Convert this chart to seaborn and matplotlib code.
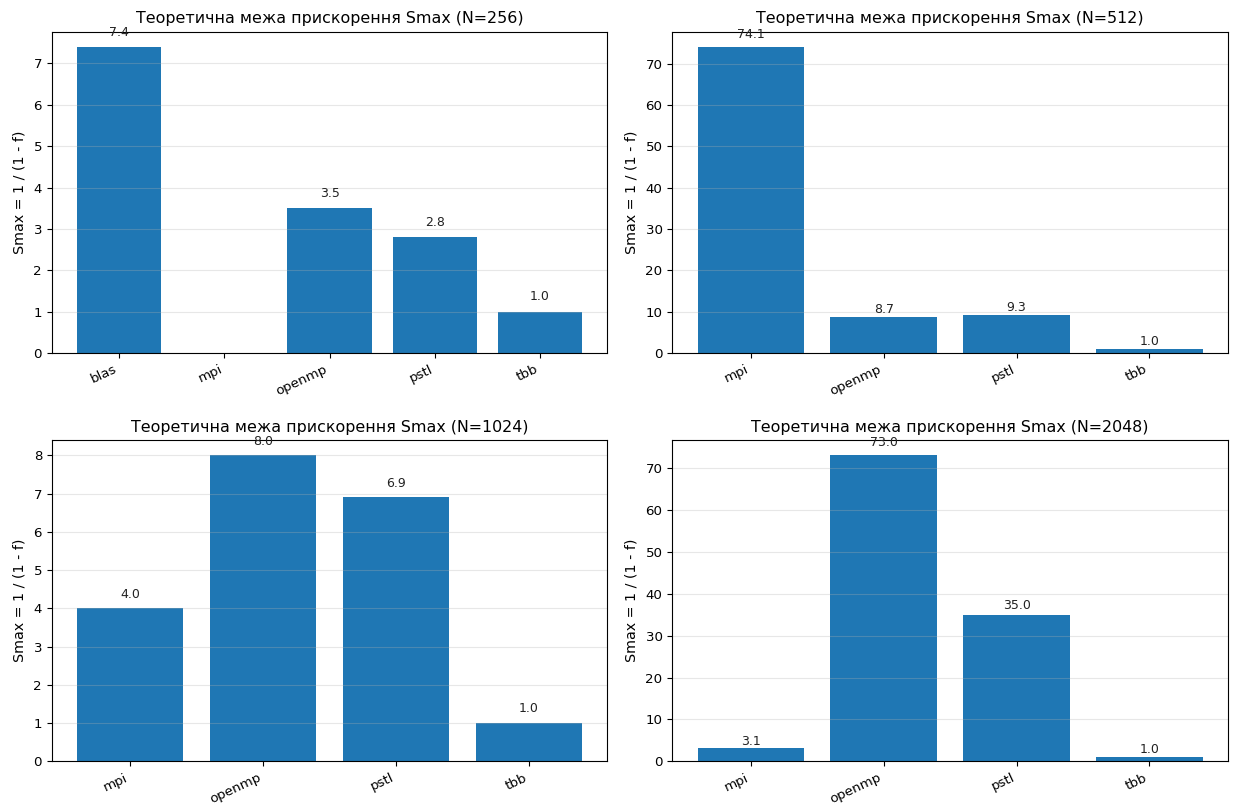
import numpy as np
import pandas as pd
import matplotlib
matplotlib.use("Agg")
import matplotlib.pyplot as plt
import seaborn as sns

# Theoretical speedup limit Smax = 1 / (1 - f) per implementation and matrix size
sizes = [256, 512, 1024, 2048]

impl_256 = ["blas", "mpi", "openmp", "pstl", "tbb"]
smax_256 = [7.4, np.nan, 3.5, 2.8, 1.0]

impl_512 = ["mpi", "openmp", "pstl", "tbb"]
smax_512 = [74.1, 8.7, 9.3, 1.0]

impl_1024 = ["mpi", "openmp", "pstl", "tbb"]
smax_1024 = [4.0, 8.0, 6.9, 1.0]

impl_2048 = ["mpi", "openmp", "pstl", "tbb"]
smax_2048 = [3.1, 73.0, 35.0, 1.0]

panels = [
    (256, impl_256, smax_256),
    (512, impl_512, smax_512),
    (1024, impl_1024, smax_1024),
    (2048, impl_2048, smax_2048),
]

bar_color = "#1f77b4"

fig, axes = plt.subplots(2, 2, figsize=(12.34, 8.10), dpi=100)
fig.subplots_adjust(left=0.042, right=0.995, top=0.961, bottom=0.060,
                    wspace=0.117, hspace=0.271)

for ax, (n, impls, vals) in zip(axes.flat, panels):
    df = pd.DataFrame({"impl": impls, "smax": vals})
    sns.barplot(data=df.dropna(), x="impl", y="smax", order=impls,
                color=bar_color, saturation=1, width=0.8, ax=ax, errorbar=None)
    ax.autoscale(enable=True, axis="x")
    ax.margins(x=0.05)
    ax.autoscale_view()

    for i, v in enumerate(vals):
        if np.isnan(v):
            continue
        ax.text(i, v + max(0.2, 0.02 * v), f"{v:.1f}", ha="center",
                va="bottom", fontsize=9, color="#222222")

    ax.set_title(f"Теоретична межа прискорення Smax (N={n})", fontsize=11.4)
    ax.set_xlabel("")
    ax.set_ylabel("Smax = 1 / (1 - f)", fontsize=10.3, labelpad=5)
    ax.tick_params(axis="both", labelsize=9.6)
    plt.setp(ax.get_xticklabels(), rotation=25, ha="right",
             rotation_mode="default")
    ax.grid(axis="y", alpha=0.3)
    ax.grid(axis="x", visible=False)

fig.savefig("out.png", dpi=100)
